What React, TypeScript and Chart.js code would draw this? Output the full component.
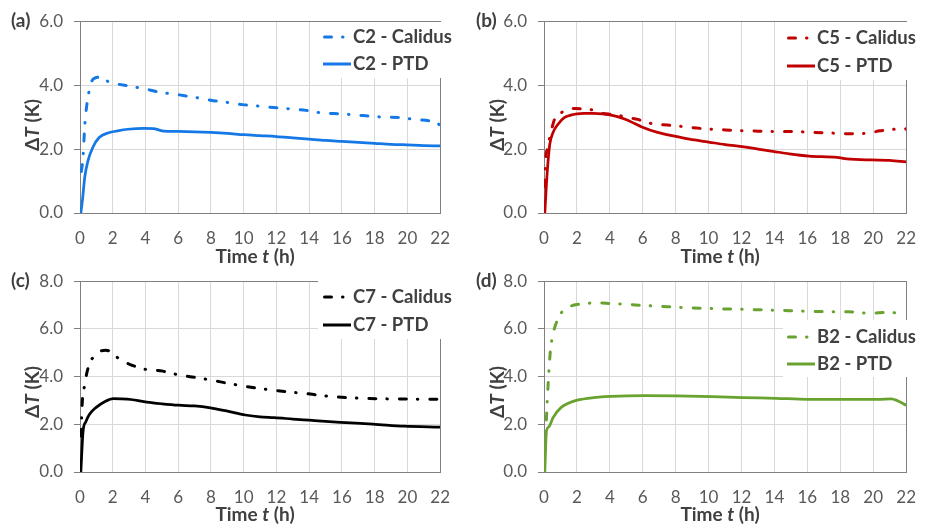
import React, { useEffect, useRef } from 'react';
import { Chart, registerables } from 'chart.js';
Chart.register(...registerables);

const FONT = 'Lato, "Open Sans", sans-serif';

// x tick values
const xTicksMax = 22;

// Panel (a) C2
const tA_cal = [0.08, 0.18, 0.3, 0.53, 0.7, 0.9, 1.3, 1.84, 2.2, 3.0, 3.9, 4.86, 6, 7, 7.97, 9, 9.92, 11, 12.06, 13, 13.8, 14.78, 16, 17, 17.7, 18.5, 19.64, 20.4, 21.4, 21.8, 22];
const yA_cal = [1.3, 1.7, 2.8, 3.74, 4.1, 4.22, 4.25, 4.07, 4.04, 3.97, 3.89, 3.78, 3.7, 3.62, 3.53, 3.46, 3.39, 3.34, 3.29, 3.25, 3.21, 3.13, 3.1, 3.06, 3.03, 3.0, 2.98, 2.93, 2.88, 2.84, 2.72];
const tA_ptd = [0.05, 0.1, 0.16, 0.29, 0.49, 0.78, 1.17, 1.75, 2.3, 2.92, 3.89, 4.5, 4.8, 5.1, 6, 7, 8, 9, 10, 11, 12, 13, 14, 15, 16, 17, 18, 19, 20, 21, 22];
const yA_ptd = [0, 0.2, 0.45, 1.12, 1.64, 2.05, 2.36, 2.51, 2.57, 2.62, 2.65, 2.64, 2.6, 2.56, 2.55, 2.54, 2.52, 2.49, 2.45, 2.42, 2.39, 2.35, 2.31, 2.27, 2.24, 2.21, 2.18, 2.15, 2.13, 2.11, 2.1];

// Panel (b) C5
const tB_cal = [0.06, 0.1, 0.2, 0.45, 0.64, 0.94, 1.33, 1.91, 2.59, 3.0, 3.45, 4.2, 4.74, 5.1, 5.7, 6.1, 6.9, 7.5, 8.0, 8.6, 9.03, 10.2, 11, 12.15, 13, 14.1, 15, 16.4, 17.5, 18.4, 19.6, 20.4, 21.3, 21.9, 22];
const yB_cal = [0.81, 1.64, 2.0, 2.59, 2.93, 3.08, 3.24, 3.27, 3.24, 3.22, 3.13, 3.08, 3.03, 2.98, 2.93, 2.85, 2.77, 2.75, 2.72, 2.7, 2.67, 2.62, 2.6, 2.57, 2.56, 2.55, 2.55, 2.52, 2.5, 2.48, 2.49, 2.57, 2.62, 2.66, 2.62];
const tB_ptd = [0.05, 0.15, 0.25, 0.35, 0.55, 0.84, 1.23, 1.62, 2.0, 2.4, 3.0, 3.57, 4.35, 4.93, 5.5, 5.91, 6.9, 7.86, 8.84, 10.0, 11, 12.15, 13, 13.9, 14.9, 16.1, 17.8, 18.4, 19.9, 21, 22];
const yB_ptd = [0, 0.92, 1.64, 2.15, 2.52, 2.77, 2.98, 3.06, 3.1, 3.12, 3.12, 3.1, 3.03, 2.93, 2.8, 2.7, 2.52, 2.41, 2.31, 2.22, 2.14, 2.07, 2.0, 1.93, 1.85, 1.78, 1.74, 1.69, 1.66, 1.65, 1.6];

// Panel (c) C7
const tC_cal = [0.08, 0.1, 0.29, 0.58, 0.88, 1.27, 1.56, 1.75, 2.18, 2.6, 2.92, 3.89, 5.06, 6.03, 7, 7.97, 8.95, 10.1, 11, 12.06, 13, 13.8, 14.8, 16, 17.7, 19.6, 22];
const yC_cal = [1.5, 2.28, 3.66, 4.55, 4.85, 5.08, 5.1, 5.08, 4.85, 4.66, 4.55, 4.32, 4.23, 4.07, 3.97, 3.86, 3.73, 3.59, 3.5, 3.41, 3.34, 3.29, 3.2, 3.13, 3.08, 3.06, 3.05];
const tC_ptd = [0.05, 0.19, 0.35, 0.58, 0.97, 1.56, 2.04, 2.5, 3.11, 4.08, 5, 6.03, 7, 7.97, 8.95, 10.1, 11, 11.86, 13, 14, 15, 15.9, 17.9, 19.8, 22];
const yC_ptd = [0, 1.73, 2.1, 2.42, 2.7, 2.97, 3.08, 3.07, 3.04, 2.93, 2.86, 2.8, 2.77, 2.69, 2.56, 2.39, 2.31, 2.28, 2.22, 2.17, 2.12, 2.08, 2.01, 1.92, 1.88];

// Panel (d) B2
const tD_cal = [0.06, 0.15, 0.25, 0.39, 0.55, 0.84, 1.23, 1.6, 2.0, 3.2, 4.1, 5, 6.1, 7, 8.05, 9, 10.2, 12.1, 14.1, 16.0, 17.5, 18.5, 19.7, 21, 22];
const yD_cal = [0.9, 2.28, 3.66, 5.1, 5.79, 6.41, 6.82, 6.95, 7.02, 7.09, 7.06, 7.03, 6.98, 6.95, 6.91, 6.88, 6.85, 6.82, 6.78, 6.74, 6.72, 6.72, 6.66, 6.69, 6.6];
const tD_ptd = [0.05, 0.15, 0.3, 0.55, 1.03, 1.81, 2.79, 4.1, 6.1, 8.0, 10.2, 12.1, 14.1, 16.0, 18, 20.3, 21.1, 21.5, 22];
const yD_ptd = [0, 1.73, 1.9, 2.28, 2.7, 2.97, 3.1, 3.17, 3.2, 3.19, 3.16, 3.12, 3.09, 3.05, 3.05, 3.05, 3.07, 2.98, 2.8];

const labelsA = ['C2 - Calidus', 'C2 - PTD'];
const labelsB = ['C5 - Calidus', 'C5 - PTD'];
const labelsC = ['C7 - Calidus', 'C7 - PTD'];
const labelsD = ['B2 - Calidus', 'B2 - PTD'];

const CAL_DASH = [7, 11, 0.5, 12];

type Panel = {
  tag: string;
  left: number; top: number; w: number; h: number;
  area: { l: number; t: number; r: number; b: number };
  yMax: number;
  color: string;
  names: string[];
  tCal: number[]; yCal: number[]; tPtd: number[]; yPtd: number[];
  legend: { x: number; y1: number; y2: number; box: [number, number, number, number] };
  yTitleY: number;
  xTitleY: number;
};

const panels: Panel[] = [
  {
    tag: '(a)', left: 0, top: 0, w: 465, h: 272,
    area: { l: 80, t: 19, r: 457, b: 213 }, yMax: 6, color: '#1479E6', names: labelsA,
    tCal: tA_cal, yCal: yA_cal, tPtd: tA_ptd, yPtd: yA_ptd,
    legend: { x: 323, y1: 37, y2: 64, box: [318, 22, 138, 56] }, yTitleY: 125, xTitleY: 257,
  },
  {
    tag: '(b)', left: 465, top: 0, w: 466, h: 272,
    area: { l: 79, t: 19, r: 455, b: 213 }, yMax: 6, color: '#C00000', names: labelsB,
    tCal: tB_cal, yCal: yB_cal, tPtd: tB_ptd, yPtd: yB_ptd,
    legend: { x: 322, y1: 38, y2: 66, box: [317, 22, 137, 58] }, yTitleY: 125, xTitleY: 257,
  },
  {
    tag: '(c)', left: 0, top: 260, w: 465, h: 269,
    area: { l: 80, t: 18, r: 457, b: 212 }, yMax: 8, color: '#000000', names: labelsC,
    tCal: tC_cal, yCal: yC_cal, tPtd: tC_ptd, yPtd: yC_ptd,
    legend: { x: 323, y1: 37, y2: 65, box: [318, 21, 138, 58] }, yTitleY: 132, xTitleY: 255,
  },
  {
    tag: '(d)', left: 465, top: 260, w: 466, h: 269,
    area: { l: 79, t: 18, r: 455, b: 212 }, yMax: 8, color: '#68A22F', names: labelsD,
    tCal: tD_cal, yCal: yD_cal, tPtd: tD_ptd, yPtd: yD_ptd,
    legend: { x: 322, y1: 77, y2: 104, box: [318, 60, 136, 57] }, yTitleY: 132, xTitleY: 255,
  },
];

function drawMixed(ctx: CanvasRenderingContext2D, parts: [string, boolean][], cx: number, cy: number, size: number) {
  const fonts = parts.map(([, it]) => `${it ? 'italic ' : ''}bold ${size}px ${FONT}`);
  let total = 0;
  const widths = parts.map(([s], i) => {
    ctx.font = fonts[i];
    const w = ctx.measureText(s).width;
    total += w;
    return w;
  });
  let x = cx - total / 2;
  ctx.textBaseline = 'middle';
  ctx.textAlign = 'left';
  parts.forEach(([s], i) => {
    ctx.font = fonts[i];
    ctx.fillText(s, x, cy);
    x += widths[i];
  });
}

function makePlugin(p: Panel) {
  return {
    id: 'decor' + p.tag,
    beforeDatasetsDraw(chart: any) {
      const ctx = chart.ctx as CanvasRenderingContext2D;
      const a = chart.chartArea;
      ctx.save();
      ctx.strokeStyle = '#808080';
      ctx.lineWidth = 1;
      ctx.strokeRect(Math.round(a.left) + 0.5, Math.round(a.top) + 0.5, Math.round(a.right - a.left), Math.round(a.bottom - a.top));
      ctx.restore();
    },
    afterDraw(chart: any) {
      const ctx = chart.ctx as CanvasRenderingContext2D;
      const a = chart.chartArea;
      ctx.save();
      // legend
      const [bx, by, bw, bh] = p.legend.box;
      ctx.fillStyle = '#ffffff';
      ctx.fillRect(bx, by, bw, bh);
      const x0 = p.legend.x, x1 = p.legend.x + 28;
      const rows: [number, string, boolean][] = [
        [p.legend.y1, p.names[0], true],
        [p.legend.y2, p.names[1], false],
      ];
      rows.forEach(([y, name, dashed]) => {
        ctx.beginPath();
        ctx.strokeStyle = p.color;
        ctx.lineWidth = 3;
        ctx.lineCap = dashed ? 'round' : 'butt';
        ctx.setLineDash(dashed ? CAL_DASH : []);
        ctx.moveTo(x0 + (dashed ? 1.5 : 0), y);
        ctx.lineTo(x1, y);
        ctx.stroke();
        ctx.setLineDash([]);
        ctx.fillStyle = '#404040';
        ctx.font = `bold 18.5px ${FONT}`;
        ctx.textBaseline = 'middle';
        ctx.textAlign = 'left';
        ctx.fillText(name, x1 + 2, y);
      });
      // panel tag
      ctx.fillStyle = '#404040';
      ctx.font = `bold 19px ${FONT}`;
      ctx.textBaseline = 'middle';
      ctx.textAlign = 'left';
      ctx.fillText(p.tag, 11, a.top);
      // x title
      drawMixed(ctx, [['Time ', false], ['t', true], [' (h)', false]], (a.left + a.right) / 2 - 5, p.xTitleY, 19);
      // y title
      ctx.translate(33, p.yTitleY);
      ctx.rotate(-Math.PI / 2);
      drawMixed(ctx, [['Δ', false], ['T', true], [' (K)', false]], 0, 0, 19);
      ctx.restore();
    },
  };
}

function ChartPanel({ p }: { p: Panel }) {
  const ref = useRef<HTMLCanvasElement>(null);
  useEffect(() => {
    if (!ref.current) return;
    const cal = p.tCal.map((t, i) => ({ x: t, y: p.yCal[i] }));
    const ptd = p.tPtd.map((t, i) => ({ x: t, y: p.yPtd[i] }));
    const chart = new Chart(ref.current, {
      type: 'line',
      data: {
        datasets: [
          {
            label: p.names[0], data: cal, borderColor: p.color, borderWidth: 3,
            borderDash: CAL_DASH, borderCapStyle: 'round', pointRadius: 0,
            cubicInterpolationMode: 'monotone', fill: false,
          },
          {
            label: p.names[1], data: ptd, borderColor: p.color, borderWidth: 2.75,
            pointRadius: 0, cubicInterpolationMode: 'monotone', fill: false,
          },
        ],
      },
      options: {
        animation: false,
        responsive: false,
        events: [],
        layout: { padding: { top: p.area.t, right: p.w - p.area.r, left: 0, bottom: 0 } },
        plugins: { legend: { display: false }, tooltip: { enabled: false } },
        scales: {
          x: {
            type: 'linear', min: 0, max: xTicksMax,
            afterFit: (s: any) => { s.height = p.h - p.area.b; },
            grid: { color: '#d9d9d9', drawTicks: false },
            border: { display: false },
            ticks: {
              stepSize: 2, padding: 15, color: '#595959', maxRotation: 0,
              font: { family: FONT, size: 17 },
            },
          },
          y: {
            type: 'linear', min: 0, max: p.yMax,
            afterFit: (s: any) => { s.width = p.area.l; },
            grid: { color: '#d9d9d9', drawTicks: true, tickLength: 6, tickColor: '#808080' },
            border: { display: false },
            ticks: {
              stepSize: 2, padding: 11, color: '#595959',
              font: { family: FONT, size: 17 },
              callback: (v: any) => Number(v).toFixed(1),
            },
          },
        },
      },
      plugins: [makePlugin(p)],
    } as any);
    return () => chart.destroy();
  }, [p]);
  return (
    <canvas
      ref={ref}
      width={p.w}
      height={p.h}
      style={{ position: 'absolute', left: p.left, top: p.top, width: p.w, height: p.h }}
    />
  );
}

export default function App() {
  return (
    <div style={{ position: 'absolute', left: 0, top: 0, width: 931, height: 529, background: '#ffffff', overflow: 'hidden' }}>
      {panels.map((p) => (
        <ChartPanel key={p.tag} p={p} />
      ))}
    </div>
  );
}
